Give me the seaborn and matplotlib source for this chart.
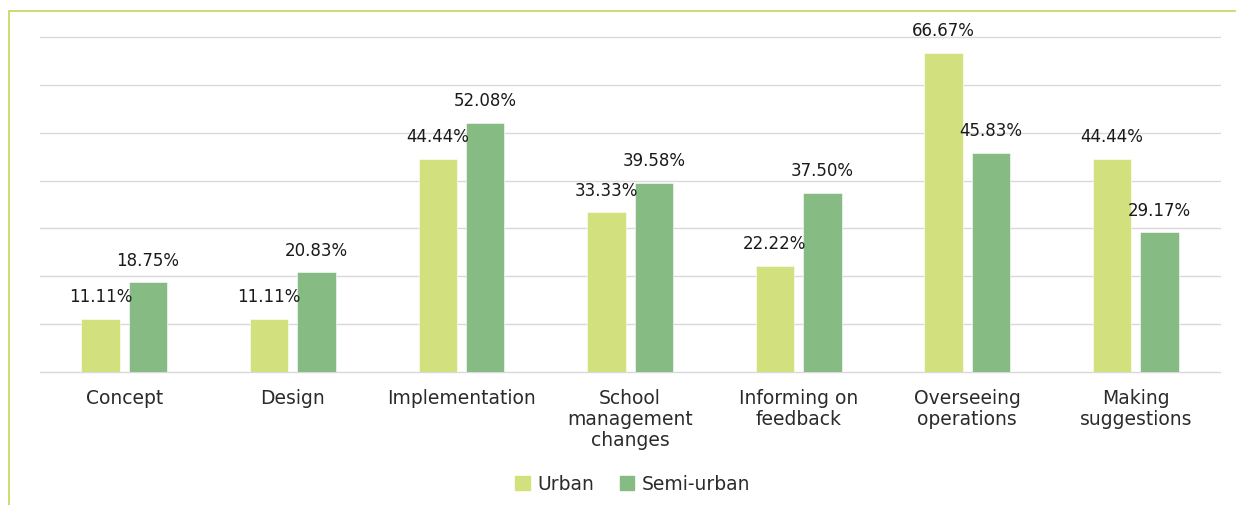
import matplotlib
matplotlib.use("Agg")
import matplotlib.pyplot as plt
from matplotlib.lines import Line2D
import pandas as pd
import seaborn as sns

categories = ['Concept', 'Design', 'Implementation',
              'School\nmanagement\nchanges', 'Informing on\nfeedback',
              'Overseeing\noperations', 'Making\nsuggestions']
urban = [11.11, 11.11, 44.44, 33.33, 22.22, 66.67, 44.44]
semi_urban = [18.75, 20.83, 52.08, 39.58, 37.50, 45.83, 29.17]
series = ['Urban', 'Semi-urban']
colors = ['#D2E17D', '#86BC84']

df = pd.DataFrame({
    'category': categories * 2,
    'value': urban + semi_urban,
    'group': [series[0]] * len(categories) + [series[1]] * len(categories),
})

sns.set_theme(style='white')
plt.rcParams['font.family'] = ['DejaVu Sans']

fig = plt.figure(figsize=(12.36, 5.06), dpi=100)
ax = fig.add_axes([0.0324, 0.2623, 0.9547, 0.6632])

sns.barplot(data=df, x='category', y='value', hue='group',
            palette=colors, width=0.5625, gap=0.19, ax=ax,
            edgecolor='white', linewidth=0.4, saturation=1, legend=False)

# value labels above the bars
for cont in ax.containers:
    ax.bar_label(cont, fmt='%.2f%%', padding=10, fontsize=12, color='#1a1a1a')

ax.set_ylim(0, 70)
ax.set_xlim(-0.5, len(categories) - 0.5)
ax.set_yticks(range(0, 71, 10))
ax.set_yticklabels([])
ax.grid(True, axis='y', color='#d9d9d9', linewidth=1.0)
for gl in ax.get_ygridlines():
    gl.set_clip_on(False)
ax.set_axisbelow(True)
for s in ax.spines.values():
    s.set_visible(False)
ax.tick_params(axis='x', length=0, pad=11, labelsize=13.5, labelcolor='#2b2b2b')
ax.tick_params(axis='y', length=0)
for lbl in ax.get_xticklabels():
    lbl.set_linespacing(1.15)
    lbl.set_va('top')
ax.set_xlabel('')
ax.set_ylabel('')

# legend with square markers
handles = [plt.Rectangle((0, 0), 1, 1, color=c) for c in colors]
fig.legend(handles, series, loc='center', bbox_to_anchor=(0.512, 0.042),
           ncol=2, frameon=False, fontsize=13.5, handlelength=0.75,
           handleheight=0.75, handletextpad=0.4, columnspacing=1.4,
           labelcolor='#2b2b2b')

# green frame lines along top and left
frame_col = '#CADD72'
fig.add_artist(Line2D([9 / 1236, 1.0], [1 - 12 / 506, 1 - 12 / 506],
                      color=frame_col, linewidth=1.4, transform=fig.transFigure))
fig.add_artist(Line2D([9 / 1236, 9 / 1236], [0, 1 - 12 / 506],
                      color=frame_col, linewidth=1.4, transform=fig.transFigure))

fig.savefig('out.png', dpi=100, facecolor='white')
